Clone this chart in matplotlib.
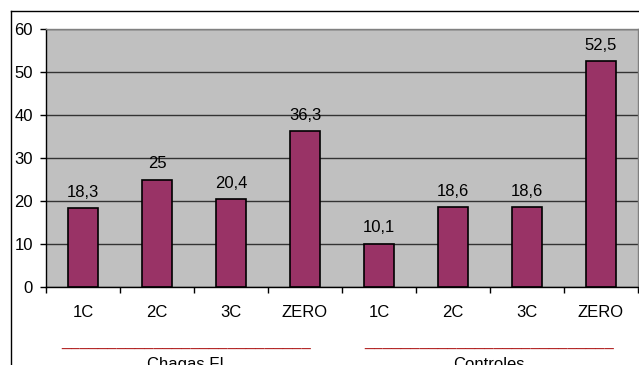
import matplotlib
matplotlib.use("Agg")
import matplotlib.pyplot as plt
from matplotlib.lines import Line2D

plt.rcParams['font.family'] = ['Liberation Sans', 'DejaVu Sans']

categories = ["1C", "2C", "3C", "ZERO", "1C", "2C", "3C", "ZERO"]
values = [18.3, 25, 20.4, 36.3, 10.1, 18.6, 18.6, 52.5]
value_labels = ["18,3", "25", "20,4", "36,3", "10,1", "18,6", "18,6", "52,5"]
groups = ["Chagas FI", "Controles"]
group_centers = [1.39, 5.49]
yticks = [0, 10, 20, 30, 40, 50, 60]

FS = 12
W, H = 639, 365
fig = plt.figure(figsize=(W / 100, H / 100), dpi=100)
ax = fig.add_axes([46 / W, 78 / H, 592 / W, 258 / H])

x = list(range(len(categories)))
ax.bar(x, values, width=0.41, color="#993366", edgecolor="black", linewidth=1.2, zorder=3)

for xi, v, lab in zip(x, values, value_labels):
    ax.annotate(lab, (xi, v), xytext=(0, 8), textcoords="offset points",
                ha="center", va="baseline", fontsize=FS, color="black")

ax.set_facecolor("#C0C0C0")
ax.set_xlim(-0.5, len(categories) - 0.5)
ax.set_ylim(0, 60)
ax.set_yticks(yticks)
ax.set_yticklabels([str(t) for t in yticks], fontsize=FS)

# category boundary ticks, labels in the middle of each slot
ax.set_xticks([i - 0.5 for i in range(len(categories) + 1)])
ax.set_xticklabels([])
ax.set_xticks(x, minor=True)
ax.set_xticklabels(categories, minor=True, fontsize=FS)
ax.tick_params(axis="x", which="major", direction="out", length=4, width=1, color="black")
ax.tick_params(axis="x", which="minor", length=0, pad=13)
ax.tick_params(axis="y", direction="out", length=4, width=1, color="black", pad=5.5)

ax.yaxis.grid(True, color="#333333", linewidth=1)
ax.set_axisbelow(True)
for side in ("top", "right"):
    ax.spines[side].set_color("#808080")
    ax.spines[side].set_linewidth(1)
for side in ("left", "bottom"):
    ax.spines[side].set_color("black")
    ax.spines[side].set_linewidth(1)
ax.spines["bottom"].set_zorder(4)

for gx, name in zip(group_centers, groups):
    ax.text(gx, -14.0, "_" * 27, ha="center", va="baseline",
            fontsize=FS, color="#B22222", clip_on=False)
    ax.text(gx, -19.1, name, ha="center", va="baseline",
            fontsize=FS, color="black", clip_on=False)

# outer chart frame
fig.add_artist(Line2D([10.5 / W, 10.5 / W], [1.0 - 11 / H, 0], transform=fig.transFigure,
                      color="black", linewidth=1))
fig.add_artist(Line2D([10.5 / W, 1.0], [1.0 - 11 / H, 1.0 - 11 / H], transform=fig.transFigure,
                      color="black", linewidth=1))

fig.savefig("out.png", dpi=100, facecolor="white")
